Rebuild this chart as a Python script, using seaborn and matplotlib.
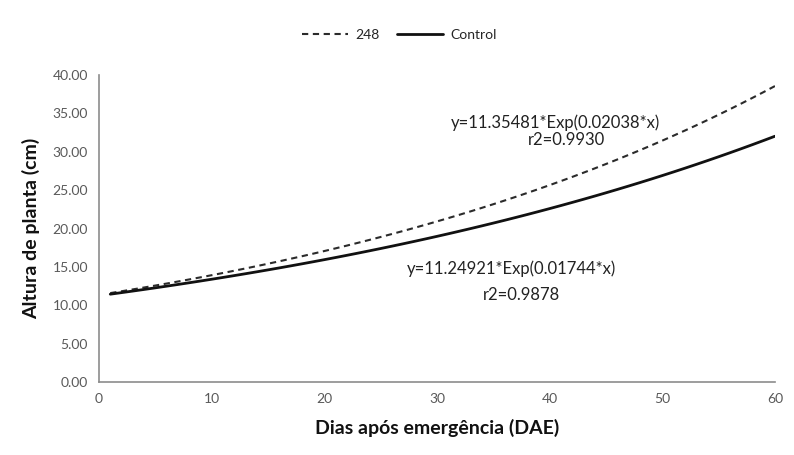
import numpy as np
import pandas as pd
import matplotlib
matplotlib.use("Agg")
import matplotlib.pyplot as plt
import seaborn as sns
from matplotlib.lines import Line2D

# Exponential fits y = a * exp(b * x) for each treatment
treatments = ["248", "Control"]
coef_a = [11.35481, 11.24921]
coef_b = [0.02038, 0.01744]
r2_values = ["0.9930", "0.9878"]
days = np.arange(1, 61)

rows = []
for name, a, b in zip(treatments, coef_a, coef_b):
    for d in days:
        rows.append({"DAE": d, "Altura": a * np.exp(b * d), "Tratamento": name})
df = pd.DataFrame(rows)

sns.set_theme(style="white")
plt.rcParams["font.family"] = ["Lato", "DejaVu Sans"]

fig = plt.figure(figsize=(7.94, 4.55), dpi=100)
ax = fig.add_axes([0.1247, 0.1604, 0.8513, 0.6746])

sns.lineplot(data=df, x="DAE", y="Altura", hue="Tratamento", style="Tratamento",
             palette={"248": "#2b2b2b", "Control": "#111111"},
             dashes={"248": (3, 2.2), "Control": ""},
             ax=ax, legend=False)
lines = ax.get_lines()
lines[0].set_linewidth(1.5)
lines[1].set_linewidth(2.0)

ax.set_xlim(0, 60)
ax.set_ylim(0, 40)
ax.set_xticks(range(0, 61, 10))
ax.set_yticks(range(0, 41, 5))
ax.set_yticklabels([f"{v:.2f}" for v in range(0, 41, 5)])
ax.tick_params(axis="both", length=0, labelsize=10, colors="#595959", pad=8)

for side in ["top", "right"]:
    ax.spines[side].set_visible(False)
for side in ["left", "bottom"]:
    ax.spines[side].set_color("#8c8c8c")
    ax.spines[side].set_linewidth(1.2)

ax.set_xlabel("Dias após emergência (DAE)", fontsize=14, fontweight="bold",
              color="#111111", labelpad=10)
ax.set_ylabel("Altura de planta (cm)", fontsize=14, fontweight="bold",
              color="#111111", labelpad=9)

txt = dict(ha="center", va="center", fontsize=12, color="#222222")
ax.text(40.5, 33.8, f"y={coef_a[0]}*Exp({coef_b[0]:.5f}*x)", **txt)
ax.text(41.5, 31.5, f"r2={r2_values[0]}", **txt)
ax.text(36.6, 14.8, f"y={coef_a[1]}*Exp({coef_b[1]:.5f}*x)", **txt)
ax.text(37.5, 11.3, f"r2={r2_values[1]}", **txt)

handles = [Line2D([], [], color="#2b2b2b", lw=1.5, dashes=(3, 2.2)),
           Line2D([], [], color="#111111", lw=2.0)]
fig.legend(handles, treatments, loc="center", bbox_to_anchor=(0.503, 0.923),
           ncol=2, frameon=False, fontsize=10, handlelength=3.3, columnspacing=1.3,
           handletextpad=0.5)

fig.savefig("out.png", dpi=100)
